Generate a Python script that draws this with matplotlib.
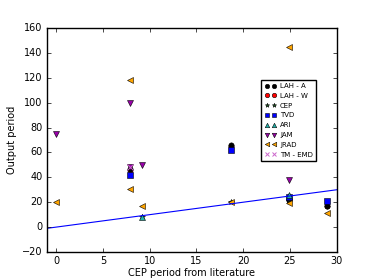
import matplotlib
matplotlib.use("Agg")
import matplotlib.pyplot as plt

plt.style.use("classic")
plt.rcParams["font.size"] = 7

# CEP period (x) -> output period (y), per method
lah_a_x = [7.9, 18.7, 24.9, 29.0]
lah_a_y = [47, 66, 22, 17]
lah_w_x = [7.9, 18.7, 24.9, 29.0]
lah_w_y = [46, 65, 22, 17]
cep_x = [9.2, 18.7, 24.9]
cep_y = [8, 20, 22]
tvd_x = [7.9, 18.7, 24.9, 29.0]
tvd_y = [42, 62, 24, 21]
ari_x = [9.2, 24.9]
ari_y = [8, 26]
jam_x = [0.0, 7.9, 7.9, 9.2, 24.9]
jam_y = [75, 100, 48, 50, 38]
jrad_x = [0.0, 7.9, 7.9, 9.2, 18.7, 24.9, 24.9, 29.0]
jrad_y = [20, 118, 31, 17, 20, 145, 19, 11]
tm_x = [7.9]
tm_y = [48]

line_x = [-1, 30]

fig = plt.figure(figsize=(3.74, 2.80), dpi=100)
ax = fig.add_subplot(111)

ms = 3.8
mew = 0.4
ax.plot(lah_a_x, lah_a_y, "o", color="black", ms=ms, mew=mew, label="LAH - A")
ax.plot(lah_w_x, lah_w_y, "o", color="red", ms=ms, mew=mew, label="LAH - W", zorder=1.5)
ax.plot(cep_x, cep_y, "*", color="#1b5e20", ms=ms, mew=mew, label="CEP")
ax.plot(tvd_x, tvd_y, "s", color="blue", ms=ms, mew=mew, label="TVD")
ax.plot(ari_x, ari_y, "^", color="#20b2aa", ms=ms, mew=mew, label="ARI")
ax.plot(jam_x, jam_y, "v", color="#9900aa", ms=ms, mew=mew, label="JAM")
ax.plot(jrad_x, jrad_y, "<", color="orange", ms=ms, mew=mew, label="JRAD")
ax.plot(tm_x, tm_y, "x", color="#cc66cc", ms=ms, mew=0.7, label="TM - EMD")
ax.plot(line_x, line_x, "-", color="blue", lw=0.8)

ax.set_xlim(-1, 30)
ax.set_ylim(-20, 160)
ax.set_xlabel("CEP period from literature", labelpad=1)
ax.set_ylabel("Output period", labelpad=4)
ax.tick_params(labelsize=7, pad=3, length=3)

ax.legend(loc="upper left", bbox_to_anchor=(0.74, 0.77), fontsize=5,
          numpoints=2, handlelength=1.7, borderpad=0.5, labelspacing=0.55,
          handletextpad=0.5, borderaxespad=0, markerscale=0.85)

fig.savefig("out.png", dpi=100)
